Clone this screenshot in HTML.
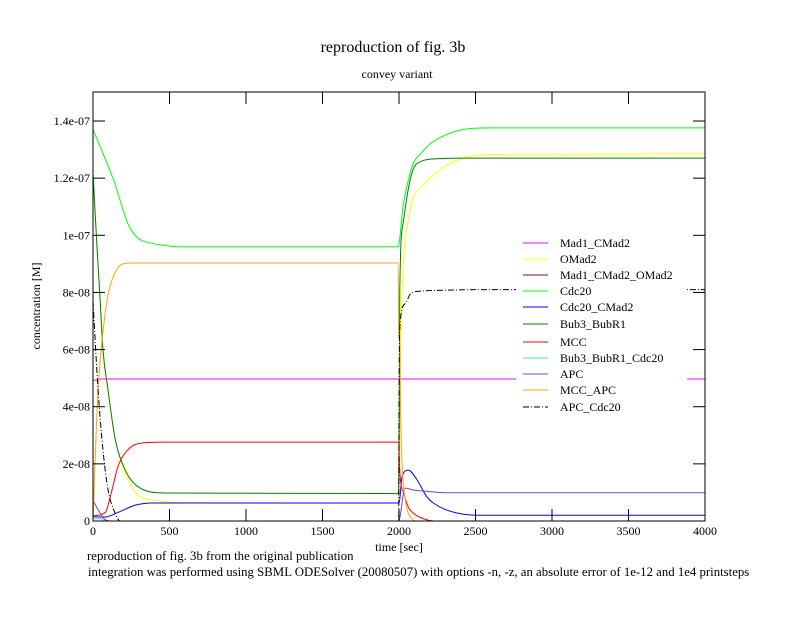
<!DOCTYPE html>
<html><head><meta charset="utf-8"><style>
body{margin:0;background:#fff;width:792px;height:612px;overflow:hidden}
text{font-family:"Liberation Serif",serif;fill:#000}
</style></head><body>
<svg id="chart" width="792" height="612" xmlns="http://www.w3.org/2000/svg">
<rect width="792" height="612" fill="#fff"/>
<text x="393" y="52" font-size="16" text-anchor="middle">reproduction of fig. 3b</text>
<text x="397" y="78" font-size="12" text-anchor="middle">convey variant</text>
<text transform="translate(40,306) rotate(-90)" font-size="12" text-anchor="middle">concentration [M]</text>
<text x="399" y="551" font-size="12" text-anchor="middle">time [sec]</text>
<text x="87" y="560" font-size="12.8">reproduction of fig. 3b from the original publication</text>
<text x="88" y="576" font-size="12.8">integration was performed using SBML ODESolver (20080507) with options -n, -z, an absolute error of 1e-12 and 1e4 printsteps</text>
<g id="plot"></g>
<g id="axes"></g>
<g id="legend"></g>
</svg>
<script>
const xTicks=[0,500,1000,1500,2000,2500,3000,3500,4000];
const yTicks=[0,2e-8,4e-8,6e-8,8e-8,1e-7,1.2e-7,1.4e-7];
const yTickLabels=["0","2e-08","4e-08","6e-08","8e-08","1e-07","1.2e-07","1.4e-07"];
const seriesNames=["Mad1_CMad2","OMad2","Mad1_CMad2_OMad2","Cdc20","Cdc20_CMad2","Bub3_BubR1","MCC","Bub3_BubR1_Cdc20","APC","MCC_APC","APC_Cdc20"];
const seriesColors=["#ff00ff","#ffff00","#800040","#00ff00","#0000ff","#008000","#ff0000","#40e0d0","#8040c0","#ffa500","#000000"];
const tMad1=[0,30,40,4000];
const vMad1=[4.93e-8,4.93e-8,4.97e-8,4.97e-8];
const tOMad2=[0,26,46,65,98,144,209,294,400,580,1995,2000,2010,2026,2060,2092,2150,2203,2300,2418,2600,4000];
const vOMad2=[1.2e-7,9.6e-8,7.8e-8,6e-8,4.6e-8,2.9e-8,1.7e-8,9e-9,7.3e-9,6.4e-9,6.3e-9,1e-8,6e-8,8.7e-8,1.05e-7,1.13e-7,1.17e-7,1.2e-7,1.24e-7,1.27e-7,1.283e-7,1.285e-7];
const tMCO=[0,4000];
const vMCO=[0,0];
const tCdc20=[0,78,144,190,229,294,360,450,560,1995,2003,2026,2060,2092,2150,2203,2300,2418,2600,4000];
const vCdc20=[1.37e-7,1.27e-7,1.18e-7,1.1e-7,1.04e-7,9.9e-8,9.75e-8,9.66e-8,9.6e-8,9.6e-8,9.8e-8,1.1e-7,1.19e-7,1.25e-7,1.29e-7,1.32e-7,1.35e-7,1.37e-7,1.376e-7,1.376e-7];
const tCC=[0,78,163,275,385,1995,2000,2020,2060,2118,2183,2268,2379,2529,4000];
const vCC=[1.5e-9,1.4e-9,3e-9,5.5e-9,6.3e-9,6.3e-9,6.3e-9,1.55e-8,1.78e-8,1.44e-8,8.4e-9,4.9e-9,2.8e-9,2e-9,2e-9];
const tBub=[0,26,46,65,98,144,209,294,470,1998,2002,2005,2026,2060,2092,2150,2250,2418,4000];
const vBub=[1.22e-7,9.6e-8,7.8e-8,6e-8,4.6e-8,2.9e-8,1.8e-8,1.2e-8,9.8e-9,9.6e-9,3.8e-8,8e-8,1.04e-7,1.16e-7,1.23e-7,1.26e-7,1.268e-7,1.27e-7,1.27e-7];
const tMCC=[0,80,124,163,229,320,450,1998,2003,2010,2030,2060,2100,2150,2230,4000];
const vMCC=[1.8e-9,3e-9,1.08e-8,1.9e-8,2.5e-8,2.73e-8,2.76e-8,2.76e-8,2e-8,1.4e-8,1e-8,5e-9,2.5e-9,1e-9,0,0];
const tBBC=[0,50,80,4000];
const vBBC=[8e-10,8e-10,0,0];
const tAPC=[0,33,78,120,1998,2005,2039,2100,2203,2300,4000];
const vAPC=[7.3e-9,4e-9,5e-10,0,0,1e-9,1.15e-8,1.08e-8,1.03e-8,9.9e-9,9.9e-9];
const tMA=[0,5,13,33,65,98,144,196,260,1995,1997,2005,2010,2020,2040,2080,2120,4000];
const vMA=[0,7e-9,2e-8,4.6e-8,6.6e-8,7.9e-8,8.7e-8,9e-8,9.03e-8,9.03e-8,6.4e-8,6.4e-8,4e-8,2e-8,8e-9,1e-9,0,0];
const tAC=[0,33,65,98,144,177,1998,2000,2007,2039,2080,2150,2314,2600,4000];
const vAC=[7.7e-8,4.6e-8,2.5e-8,1.1e-8,2.8e-9,0,0,4e-8,6.9e-8,7.6e-8,7.98e-8,8.05e-8,8.08e-8,8.1e-8,8.1e-8];
const seriesT=[tMad1,tOMad2,tMCO,tCdc20,tCC,tBub,tMCC,tBBC,tAPC,tMA,tAC];
const seriesV=[vMad1,vOMad2,vMCO,vCdc20,vCC,vBub,vMCC,vBBC,vAPC,vMA,vAC];

const X0=93,X1=705,Y0=521,YT=92;
const xs=t=>X0+(t/4000)*(X1-X0);
const ys=v=>Y0-(v/2e-8)*57.14;
const NS="http://www.w3.org/2000/svg";
const plot=document.getElementById('plot'),axes=document.getElementById('axes'),leg=document.getElementById('legend');
function mk(tag,attrs,parent){const e=document.createElementNS(NS,tag);for(const k in attrs)e.setAttribute(k,attrs[k]);parent.appendChild(e);return e;}
// monotone cubic (Fritsch-Carlson) path in pixel space
function monoPath(X,Y){
  const n=X.length;if(n<3)return 'M'+X.map((x,i)=>x.toFixed(2)+','+Y[i].toFixed(2)).join('L');
  const d=[],m=[];
  for(let i=0;i<n-1;i++){const h=X[i+1]-X[i];d.push(h>0?(Y[i+1]-Y[i])/h:0);}
  m[0]=d[0];m[n-1]=d[n-2];
  for(let i=1;i<n-1;i++){m[i]=(d[i-1]*d[i]<=0)?0:(d[i-1]+d[i])/2;}
  for(let i=0;i<n-1;i++){
    if(d[i]===0){m[i]=0;m[i+1]=0;continue;}
    const a=m[i]/d[i],b=m[i+1]/d[i],s=a*a+b*b;
    if(s>9){const tau=3/Math.sqrt(s);m[i]=tau*a*d[i];m[i+1]=tau*b*d[i];}
  }
  let p='M'+X[0].toFixed(2)+','+Y[0].toFixed(2);
  for(let i=0;i<n-1;i++){
    const h=(X[i+1]-X[i])/3;
    p+='C'+(X[i]+h).toFixed(2)+','+(Y[i]+m[i]*h).toFixed(2)+' '+(X[i+1]-h).toFixed(2)+','+(Y[i+1]-m[i+1]*h).toFixed(2)+' '+X[i+1].toFixed(2)+','+Y[i+1].toFixed(2);
  }
  return p;
}
seriesNames.forEach((n,i)=>{
  const X=seriesT[i].map(xs),Y=seriesV[i].map(ys);
  const p=mk('path',{d:monoPath(X,Y),fill:'none',stroke:seriesColors[i],'stroke-width':1},plot);
  if(i===10)p.setAttribute('stroke-dasharray','6,2,1,2');
  
  
});
const bg=mk('rect',{x:516,y:234,width:171,height:180,fill:'#fff'},leg);


const ly=[243,259,275,291,307,324,342,358,374,390,407];
seriesNames.forEach((n,i)=>{
  const g=mk('g',{},leg);
  
  
  const l=mk('line',{x1:523,x2:548,y1:ly[i],y2:ly[i],stroke:seriesColors[i],'stroke-width':1},g);
  if(i===10)l.setAttribute('stroke-dasharray','6,2,1,2');
  const t=mk('text',{x:560,y:ly[i]+4,'font-size':12},g);t.textContent=n;
});
const fr=mk('rect',{x:X0,y:YT,width:X1-X0,height:Y0-YT,fill:'none',stroke:'#000','stroke-width':1},axes);


xTicks.forEach(t=>{
  const x=xs(t);
  mk('line',{x1:x,x2:x,y1:Y0,y2:Y0-12,stroke:'#000'},axes);
  mk('line',{x1:x,x2:x,y1:YT,y2:YT+12,stroke:'#000'},axes);
  const tx=mk('text',{x:x,y:Y0+14,'font-size':12,'text-anchor':'middle'},axes);tx.textContent=t;
  
  
});
yTicks.forEach((v,i)=>{
  const y=ys(v);
  mk('line',{x1:X0,x2:X0+12,y1:y,y2:y,stroke:'#000'},axes);
  mk('line',{x1:X1,x2:X1-12,y1:y,y2:y,stroke:'#000'},axes);
  const tx=mk('text',{x:X0-3,y:y+4,'font-size':12,'text-anchor':'end'},axes);tx.textContent=yTickLabels[i];
  
  
});
</script>
</body></html>
